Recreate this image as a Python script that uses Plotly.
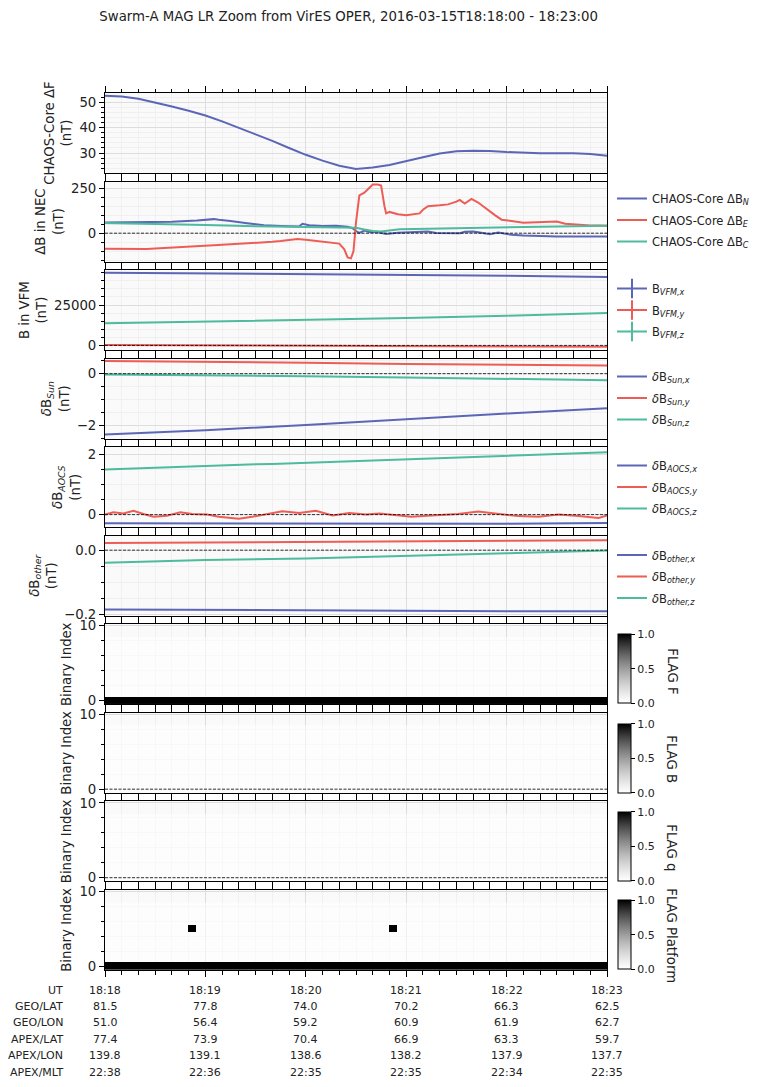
import pandas as pd
import plotly.graph_objects as go
from plotly.subplots import make_subplots

FONT = "DejaVu Sans"
BLUE = "#5b66b7"
RED = "#ee5c56"
GREEN = "#4dbb9c"

BASE = pd.Timestamp("2016-03-15 18:18:00")
END = pd.Timestamp("2016-03-15 18:23:00")

TITLE = "Swarm-A MAG LR Zoom from VirES OPER, 2016-03-15T18:18:00 - 18:23:00"

# ---------------- data (seconds after 18:18:00) ----------------
T_DF = [0, 10, 20, 30, 40, 50, 60, 70, 80, 90, 100, 110, 120, 130, 140, 150, 160, 170,
        180, 190, 200, 210, 220, 230, 240, 250, 260, 270, 280, 290, 300]
DF = [52.6, 52.3, 51.4, 50.0, 48.4, 46.7, 44.8, 42.5, 40.0, 37.4, 34.8, 32.0, 29.3, 27.0,
      25.0, 23.7, 24.3, 25.3, 26.7, 28.3, 29.8, 30.7, 30.9, 30.8, 30.4, 30.1, 29.9, 29.9,
      29.9, 29.6, 28.9]

T_N = [0, 20, 40, 55, 62, 65, 68, 75, 85, 95, 105, 112, 116, 118, 122, 130, 138, 145, 148, 150,
       152, 155, 158, 162, 164, 168, 175, 182, 188, 193, 198, 205, 212, 215, 220, 223, 227, 230,
       235, 240, 243, 250, 260, 270, 285, 300]
DB_N = [59, 60, 64, 70, 73, 78, 74, 68, 55, 44, 40, 38, 37, 52, 44, 40, 41, 36, 28, 12,
        2, 14, 6, 8, 5, -4, 3, 6, 9, 9, 1, 0, 0, 8, 9, 5, -2, -6,
        4, -2, -9, -13, -17, -19, -19, -19]

T_E = [0, 5, 10, 15, 20, 25, 30, 35, 40, 45, 50, 55, 60, 65, 70, 75, 80, 85, 90, 95,
       100, 105, 110, 115, 120, 125, 130, 135, 140, 143, 145, 147, 148.5, 150, 152, 155, 158,
       160, 163, 165, 167, 168, 170, 175, 180, 185, 188, 190, 193, 200, 205, 210, 212, 215,
       219, 223, 227, 230, 233, 237, 240, 245, 250, 255, 260, 265, 270, 275, 280, 285, 290,
       295, 300]
DB_E = [-87, -88, -88, -89, -89, -88, -85, -83, -81, -79, -76, -73, -70, -67, -64, -62, -60,
        -56, -54, -51, -48, -44, -40, -33, -36, -42, -47, -50, -58, -90, -135, -140, -100, 60,
        210, 225, 255, 270, 270, 265, 150, 110, 118, 105, 100, 105, 110, 130, 150, 155, 160,
        175, 185, 165, 190, 170, 140, 120, 100, 75, 70, 65, 58, 60, 62, 60, 65, 52, 48, 45,
        43, 42, 41]

T_C = [0, 30, 60, 90, 120, 145, 150, 155, 160, 165, 176, 185, 200, 220, 240, 260, 280, 300]
DB_C = [56, 52, 45, 38, 33, 31, 30, 20, 12, 9, 22, 23, 26, 29, 33, 36, 39, 41]

T_SLOW = [0, 60, 120, 180, 240, 300]
B_VFM_X = [45000, 44600, 44300, 43800, 43100, 42300]
B_VFM_Y = [200, -100, -300, -500, -700, -900]
B_VFM_Z = [13750, 14700, 15700, 16900, 18400, 20000]

SUN_X = [-2.35, -2.18, -1.98, -1.75, -1.54, -1.33]
SUN_Y = [0.49, 0.46, 0.42, 0.37, 0.34, 0.32]
SUN_Z = [-0.03, -0.06, -0.10, -0.15, -0.20, -0.25]

T_AOCS_Z = [0, 10, 20, 30, 40, 50, 60, 70, 80, 90, 100, 110, 120, 130, 140, 150, 160, 170,
            180, 190, 200, 210, 220, 230, 240, 250, 260, 270, 280, 290, 300]
AOCS_Z = [1.50, 1.52, 1.53, 1.56, 1.57, 1.60, 1.63, 1.63, 1.66, 1.67, 1.68, 1.70, 1.71, 1.72,
          1.75, 1.76, 1.79, 1.80, 1.83, 1.85, 1.86, 1.89, 1.91, 1.93, 1.96, 1.98, 2.00, 2.02,
          2.04, 2.05, 2.07]
T_AOCS_Y = [0, 5, 11, 17, 23, 29, 37, 45, 52, 61, 68, 80, 88, 96, 106, 116, 126, 136, 146,
            156, 164, 176, 183, 195, 211, 223, 235, 247, 259, 271, 283, 295, 300]
AOCS_Y = [0.0, 0.08, 0.04, 0.13, 0.02, -0.07, -0.04, 0.08, 0.02, 0.0, -0.07, -0.14, -0.07,
          0.02, 0.11, 0.05, 0.13, -0.03, 0.05, 0.0, 0.04, -0.03, -0.07, -0.03, 0.02, 0.10,
          0.02, -0.05, -0.07, 0.0, -0.05, -0.11, -0.03]
AOCS_X = [-0.29, -0.29, -0.30, -0.31, -0.30, -0.28]

OTHER_X = [-0.185, -0.187, -0.188, -0.190, -0.191, -0.191]
OTHER_Y = [0.022, 0.024, 0.026, 0.028, 0.030, 0.031]
OTHER_Z = [-0.039, -0.031, -0.026, -0.019, -0.010, -0.001]

# flag values as runs: (first second, last second, flag value)
N_BITS = 9
FLAGS_F_RUNS = [(0, 300, 1)]
FLAGS_B_RUNS = [(0, 300, 0)]
FLAGS_Q_RUNS = [(0, 300, 0)]
FLAGS_PLATFORM_RUNS = [(0, 49, 1), (50, 54, 33), (55, 169, 1), (170, 174, 33), (175, 300, 1)]

TABLE_LABELS = ["UT", "GEO/LAT", "GEO/LON", "APEX/LAT", "APEX/LON", "APEX/MLT"]
TABLE_TIMES = [0, 60, 120, 180, 240, 300]
TABLE_ROWS = [
    ["18:18", "18:19", "18:20", "18:21", "18:22", "18:23"],
    ["81.5", "77.8", "74.0", "70.2", "66.3", "62.5"],
    ["51.0", "56.4", "59.2", "60.9", "61.9", "62.7"],
    ["77.4", "73.9", "70.4", "66.9", "63.3", "59.7"],
    ["139.8", "139.1", "138.6", "138.2", "137.9", "137.7"],
    ["22:38", "22:36", "22:35", "22:35", "22:34", "22:35"],
]


def ts(secs):
    return [BASE + pd.Timedelta(seconds=float(s)) for s in secs]


def flag_matrix(runs):
    vals = []
    for a, b, v in runs:
        vals += [v] * (b - a + 1)
    return [[(v >> bit) & 1 for v in vals] for bit in range(N_BITS)]


# ---------------- layout geometry ----------------
W, H = 766, 1087
ML, MR, MT, MB = 105, 157, 93, 117
PW = W - ML - MR
PH = H - MT - MB


def px_x(px):
    return (px - ML) / PW


def px_y(py):
    return (H - MB - py) / PH


fig = make_subplots(rows=10, cols=1, shared_xaxes=True, vertical_spacing=8.5 / PH)


def line(x, y, color, row, name=None, legend=None, group=None):
    fig.add_trace(go.Scatter(x=ts(x), y=y, mode="lines", line=dict(color=color, width=2),
                             name=name, showlegend=name is not None, legend=legend,
                             legendgroup=group, hoverinfo="skip"), row=row, col=1)


line(T_DF, DF, BLUE, 1)
line(T_N, DB_N, BLUE, 2, "CHAOS-Core ΔB<sub><i>N</i></sub>", "legend", "n")
line(T_E, DB_E, RED, 2, "CHAOS-Core ΔB<sub><i>E</i></sub>", "legend", "e")
line(T_C, DB_C, GREEN, 2, "CHAOS-Core ΔB<sub><i>C</i></sub>", "legend", "c")

for vals, c in [(B_VFM_X, BLUE), (B_VFM_Y, RED), (B_VFM_Z, GREEN)]:
    line(T_SLOW, vals, c, 3)
for comp, c in [("x", BLUE), ("y", RED), ("z", GREEN)]:
    fig.add_trace(go.Scatter(x=[None], y=[None], mode="lines+markers",
                             line=dict(color=c, width=2),
                             marker=dict(symbol="line-ns", size=14, line=dict(color=c, width=2)),
                             name=f"B<sub><i>VFM,{comp}</i></sub>", legend="legend2",
                             legendgroup="v" + comp), row=3, col=1)

for vals, c, comp in [(SUN_X, BLUE, "x"), (SUN_Y, RED, "y"), (SUN_Z, GREEN, "z")]:
    line(T_SLOW, vals, c, 4, f"<i>δ</i>B<sub><i>Sun,{comp}</i></sub>", "legend3", "s" + comp)

line(T_SLOW, AOCS_X, BLUE, 5, "<i>δ</i>B<sub><i>AOCS,x</i></sub>", "legend4", "ax")
line(T_AOCS_Y, AOCS_Y, RED, 5, "<i>δ</i>B<sub><i>AOCS,y</i></sub>", "legend4", "ay")
line(T_AOCS_Z, AOCS_Z, GREEN, 5, "<i>δ</i>B<sub><i>AOCS,z</i></sub>", "legend4", "az")

for vals, c, comp in [(OTHER_X, BLUE, "x"), (OTHER_Y, RED, "y"), (OTHER_Z, GREEN, "z")]:
    line(T_SLOW, vals, c, 6, f"<i>δ</i>B<sub><i>other,{comp}</i></sub>", "legend5", "o" + comp)

# flags heatmaps
CB_BOTTOM = [703.3, 792.7, 880.7, 969.3]
CB_TITLE_Y = [671, 759, 848, 936]
FLAG_NAMES = ["FLAG F", "FLAG B", "FLAG q", "FLAG Platform"]
secs = list(range(301))
for i, runs in enumerate([FLAGS_F_RUNS, FLAGS_B_RUNS, FLAGS_Q_RUNS, FLAGS_PLATFORM_RUNS]):
    fig.add_trace(go.Heatmap(
        x=ts(secs), y=list(range(N_BITS)), z=flag_matrix(runs), zmin=0, zmax=1,
        colorscale=[[0, "rgba(255,255,255,0.55)"], [1, "rgba(0,0,0,1)"]], showscale=True,
        hoverinfo="skip",
        colorbar=dict(x=px_x(620), xanchor="left", y=px_y(CB_BOTTOM[i]), yanchor="bottom",
                      len=68.5, lenmode="pixels", thickness=13, thicknessmode="pixels",
                      xpad=0, ypad=0, outlinewidth=1, outlinecolor="black",
                      tickvals=[0, 0.5, 1], ticktext=["0.0", "0.5", "1.0"], ticks="outside",
                      ticklen=4, tickcolor="black",
                      tickfont=dict(size=11, family=FONT, color="#222"))),
        row=7 + i, col=1)
    fig.add_annotation(text=FLAG_NAMES[i], textangle=90, xref="paper", yref="paper",
                       x=px_x(674), y=px_y(CB_TITLE_Y[i]), xanchor="center", yanchor="middle",
                       showarrow=False, font=dict(size=13.3, family=FONT, color="#222"))

# ---------------- axes ----------------
xcommon = dict(range=[BASE, END], dtick=60000, tick0=BASE, ticks="outside", ticklen=6,
               tickcolor="black", showline=True, linecolor="black", linewidth=1, mirror="ticks",
               showticklabels=False, showgrid=True, gridcolor="#dddddd", zeroline=False,
               minor=dict(dtick=10000, tick0=BASE, ticks="outside", ticklen=3.5, tickcolor="black",
                          showgrid=True, gridcolor="#f0f0f0"))
for r in range(1, 11):
    fig.update_xaxes(**xcommon, row=r, col=1)

YSPEC = [
    ("CHAOS-Core ΔF<br>(nT)", [22.1, 53.7], 10, 2, None),
    ("ΔB in NEC<br>(nT)", [-157.8, 286.7], 250, 50, None),
    ("B in VFM<br>(nT)", [-2937, 46625], 25000, 5000, "d"),
    ("<i>δ</i>B<sub><i>Sun</i></sub><br>(nT)", [-2.51, 0.58], 2, 0.5, None),
    ("<i>δ</i>B<sub><i>AOCS</i></sub><br>(nT)", [-0.42, 2.24], 2, 0.5, None),
    ("<i>δ</i>B<sub><i>other</i></sub><br>(nT)", [-0.205, 0.045], 0.2, 0.05, ".1f"),
    ("Binary Index", [-0.55, 10.2], 10, 2, None),
    ("Binary Index", [-0.5, 10.2], 10, 2, None),
    ("Binary Index", [-0.5, 10.2], 10, 2, None),
    ("Binary Index", [-0.5, 10.2], 10, 2, None),
]
for r, (title, rng, dt, mdt, fmt) in enumerate(YSPEC, start=1):
    kw = dict(title=dict(text=title, font=dict(size=13.3, family=FONT, color="#222"), standoff=4),
              range=rng, tickmode="linear", tick0=0, dtick=dt, ticks="outside", ticklen=5,
              tickcolor="black", showline=True, linecolor="black", linewidth=1, mirror=True,
              showgrid=True, gridcolor="#dddddd", zeroline=False,
              tickfont=dict(size=13.3, family=FONT, color="#222"),
              minor=dict(tick0=0, dtick=mdt, ticks="outside", ticklen=3, tickcolor="black",
                         showgrid=True, gridcolor="#f0f0f0"))
    if fmt:
        kw["tickformat"] = fmt
    fig.update_yaxes(**kw, row=r, col=1)
    if r >= 2:
        fig.add_hline(y=0, row=r, col=1,
                      line=dict(color="black", width=0.8, dash="3px,1.5px"))


# ---------------- legends ----------------
def legend_cfg(center_py):
    return dict(x=px_x(614), xanchor="left", y=px_y(center_py), yanchor="middle",
                font=dict(size=11.5, family=FONT, color="#222"), bgcolor="rgba(0,0,0,0)",
                tracegroupgap=2.5, traceorder="grouped", itemwidth=30)


# ---------------- table ----------------
for j, lab in enumerate(TABLE_LABELS):
    py = 990 + 16.4 * j
    fig.add_annotation(text=lab, xref="paper", yref="paper", x=px_x(65), y=px_y(py),
                       xanchor="right", yanchor="middle", showarrow=False,
                       font=dict(size=11, family=FONT, color="#222"))
    for t, val in zip(TABLE_TIMES, TABLE_ROWS[j]):
        fig.add_annotation(text=val, xref="x10", yref="paper", x=ts([t])[0], y=px_y(py),
                           xanchor="center", yanchor="middle", showarrow=False,
                           font=dict(size=11, family=FONT, color="#222"))

fig.update_layout(
    width=W, height=H, margin=dict(l=ML, r=MR, t=MT, b=MB),
    paper_bgcolor="white", plot_bgcolor="#fafafa",
    font=dict(family=FONT, color="#222"),
    title=dict(text=TITLE, x=348.7 / W, xanchor="center", y=1 - 16 / H, yanchor="middle",
               font=dict(size=13.3, family=FONT, color="#222")),
    legend=legend_cfg(220), legend2=legend_cfg(310), legend3=legend_cfg(398),
    legend4=legend_cfg(487), legend5=legend_cfg(576.5),
    showlegend=True,
)

fig.write_html("out.html")
